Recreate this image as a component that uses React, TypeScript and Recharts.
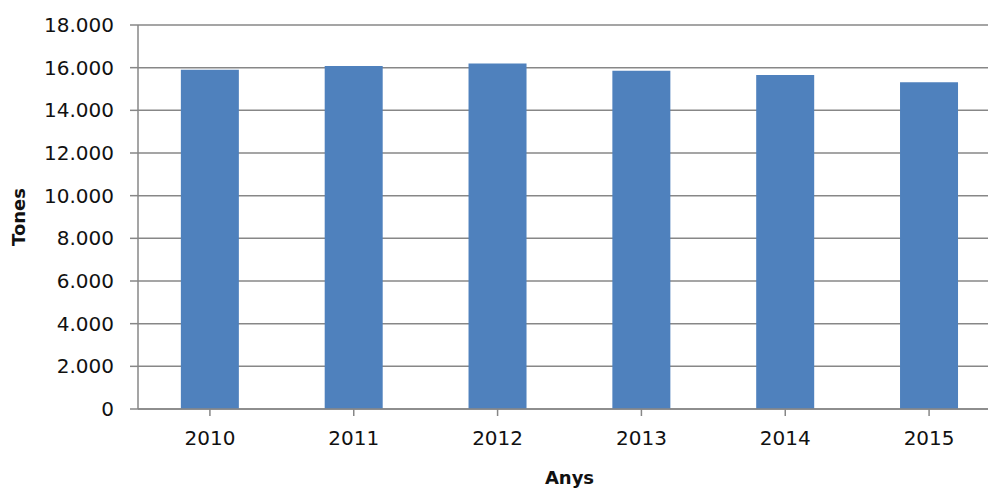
import React from 'react';
import { BarChart, Bar, XAxis, YAxis, CartesianGrid } from 'recharts';

const years = ['2010', '2011', '2012', '2013', '2014', '2015'];
const tones = [15900, 16080, 16190, 15850, 15660, 15320];
const yTicks = [0, 2000, 4000, 6000, 8000, 10000, 12000, 14000, 16000, 18000];

const data = years.map((y, i) => ({ year: y, tones: tones[i] }));

const fmt = (v: number) => String(v).replace(/\B(?=(\d{3})+(?!\d))/g, '.');

const FONT = '"DejaVu Sans", sans-serif';
const GRAY = '#878787';

export default function App() {
  return (
    <div style={{ position: 'absolute', left: 0, top: 0, width: 988, height: 490, background: '#fff', overflow: 'hidden' }}>
      <BarChart
        width={1001}
        height={490}
        data={data}
        margin={{ top: 25, right: 0, left: 0, bottom: 0 }}
        barCategoryGap="29.8%"
      >
        <CartesianGrid horizontal vertical={false} stroke={GRAY} strokeWidth={1.5} />
        <XAxis
          dataKey="year"
          height={81}
          stroke={GRAY}
          strokeWidth={1.5}
          tickSize={7}
          tickMargin={15}
          tick={{ fill: '#111', fontSize: 20, fontFamily: FONT }}
          interval={0}
          label={{ value: 'Anys', position: 'insideBottom', offset: 6, style: { fill: '#111', fontSize: 18, fontWeight: 'bold', fontFamily: FONT } }}
        />
        <YAxis
          width={138}
          domain={[0, 18000]}
          ticks={yTicks}
          interval={0}
          stroke={GRAY}
          strokeWidth={1.5}
          tickSize={8}
          tickMargin={16}
          tickFormatter={fmt}
          tick={{ fill: '#111', fontSize: 20, fontFamily: FONT }}
          label={{ value: 'Tones', angle: -90, position: 'insideLeft', offset: 19, style: { fill: '#111', fontSize: 18, fontWeight: 'bold', fontFamily: FONT, textAnchor: 'middle' } }}
        />
        <Bar dataKey="tones" fill="#4f81bd" isAnimationActive={false} />
      </BarChart>
    </div>
  );
}
